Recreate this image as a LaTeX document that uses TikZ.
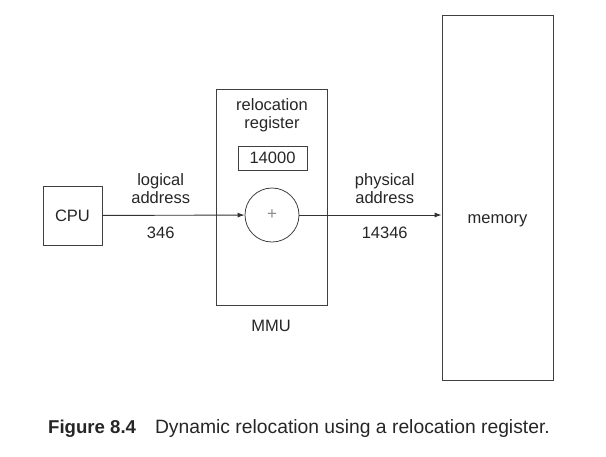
\documentclass[tikz,border=0pt]{standalone}
\usepackage{fontspec}
\setmainfont{Liberation Sans}
\usetikzlibrary{positioning,arrows.meta}
\begin{document}
\begin{tikzpicture}[
  x=1pt, y=-1pt,
  every node/.style={font=\fontsize{16.5}{18}\selectfont, text=black!85},
  box/.style={draw=black!75, line width=0.8pt, inner sep=0pt},
  adder/.style={circle, draw=black!75, line width=0.8pt, minimum size=54pt, inner sep=0pt},
  arr/.style={-{Latex[length=7pt,width=5pt]}, line width=0.9pt, draw=black!80},
  lbl/.style={inner sep=0pt, text depth=0pt, align=center}
]
\useasboundingbox (0,0) rectangle (606,456);
\node[box, minimum width=59pt, minimum height=59pt] (cpu) at (72.5,215.5) {CPU};
\node[box, minimum width=111pt, minimum height=216pt] (mmu) at (271.5,197) {};
\node[lbl, anchor=south] (reg) at (272,129) {relocation\\register};
\node[box, minimum width=69pt, minimum height=24pt] (base) at (272.5,158) {14000};
\node[adder] (add) at (272,215) {\fontsize{17}{17}\selectfont\textcolor{black!45}{+}};
\node[lbl, anchor=base] (mmulbl) at (271,331) {MMU};
\node[box, minimum width=111pt, minimum height=365pt] (mem) at (497.5,197.5) {};
\node[lbl, anchor=base] (memlbl) at (497.5,223) {memory};
% logical -> physical
\draw[arr] (cpu) -- node[lbl, pos=0.41, above=11pt] {logical\\address}
  node[lbl, pos=0.41, below=11.5pt] {346} (add);
\draw[arr] (add) -- node[lbl, pos=0.6, above=11pt] {physical\\address}
  node[lbl, pos=0.6, below=11.5pt] {14346} (add -| mem.west);
\node[lbl, anchor=base west, font=\fontsize{19.3}{21}\selectfont] (cap) at (48,433)
  {{\fontsize{18.6}{21}\selectfont\bfseries Figure 8.4}\hspace{19pt}Dynamic relocation using a relocation register.};
\end{tikzpicture}
\end{document}
